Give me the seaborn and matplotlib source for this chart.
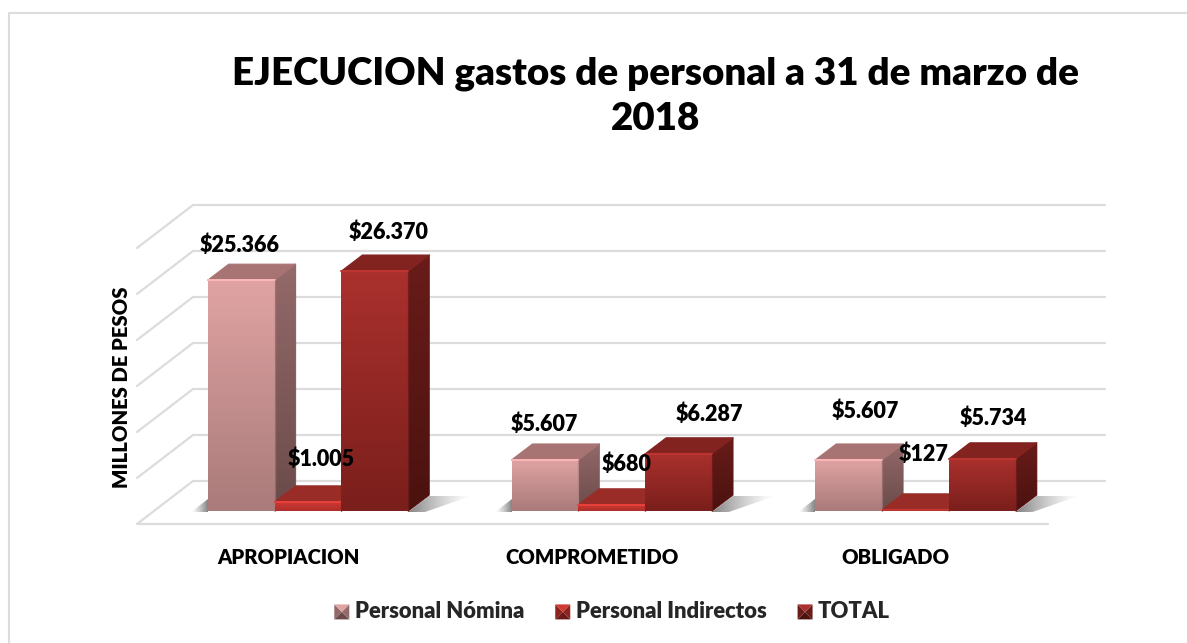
import numpy as np
import pandas as pd
import matplotlib.pyplot as plt
import seaborn as sns
from matplotlib.colors import LinearSegmentedColormap, to_rgb
from matplotlib.legend_handler import HandlerBase
from matplotlib.lines import Line2D
from matplotlib.patches import Polygon, Rectangle

etapas = ['APROPIACION', 'COMPROMETIDO', 'OBLIGADO']
rubros = ['Personal Nómina', 'Personal Indirectos', 'TOTAL']
nomina = [25366, 5607, 5607]
indirectos = [1005, 680, 127]
total = [26370, 6287, 5734]
etiquetas = ['$25.366', '$5.607', '$5.607',
             '$1.005', '$680', '$127',
             '$26.370', '$6.287', '$5.734']

W, H = 1187, 643
PX_X = 303.75   # px per category
PX_Y = 0.0091   # px per peso
DX, DY = 21, 16  # bar depth in px

# front / side / top colours for each series
colores = {
    'Personal Nómina': ['#E0A3A3', '#A97B7A', '#94696A', '#6A4B49', '#A87373'],
    'Personal Indirectos': ['#CF3A36', '#B02E2A', '#8E2320', '#6A1A18', '#9A2C28'],
    'TOTAL': ['#AA302D', '#7A1F1C', '#691C19', '#4B1210', '#822320'],
}
# label offset from the front top centre of each bar, px
label_off = [(-2, 35), (-1, 36), (17, 49),
             (13, 43), (15, 41), (8, 56),
             (14, 39), (31, 40), (11, 41)]

df = pd.DataFrame({
    'etapa': etapas * 3,
    'rubro': np.repeat(rubros, 3),
    'valor': nomina + indirectos + total,
})

sns.set_theme(style='white')
plt.rcParams['font.family'] = ['Lato', 'DejaVu Sans']
PESO = 800

fig = plt.figure(figsize=(W / 100, H / 100), dpi=100)
gris = '#DCDCDC'
fig.add_artist(Line2D([9 / W, 9 / W, 1], [0, 1 - 12.5 / H, 1 - 12.5 / H],
                      transform=fig.transFigure, color=gris, lw=1.5))
ax = fig.add_axes([137 / W, 1 - 524 / H, (1105 - 137) / W, (524 - 205) / H])

sns.barplot(data=df, x='etapa', y='valor', hue='rubro', order=etapas, hue_order=rubros,
            palette=[colores[r][0] for r in rubros], width=0.66, gap=0, dodge=True,
            errorbar=None, ax=ax, saturation=1, zorder=5, edgecolor='none', linewidth=0)

xlim = ((137 - 308) / PX_X, (1105 - 308) / PX_X)
ylim = ((511 - 524) / PX_Y, (511 - 205) / PX_Y)
dx = DX / PX_X
dy = DY / PX_Y


def x_px(p):
    return (p - 308) / PX_X


def y_px(p):
    return (511 - p) / PX_Y


def sombra(x0, x1, y0, y1, poly, al_reves, z):
    # soft grey shadow on the floor, fades away from the bar
    a = np.linspace(0, 0.75, 64) ** 1.3
    if al_reves:
        a = a[::-1]
    img = np.zeros((1, 64, 4))
    img[..., :3] = 0.3
    img[..., 3] = a
    pat = Polygon(poly, fc='none', ec='none', zorder=z)
    ax.add_patch(pat)
    im = ax.imshow(img, aspect='auto', extent=(x0, x1, y0, y1), zorder=z, interpolation='bilinear')
    im.set_clip_path(pat)


# walls and floor
for yb in [205, 251, 297, 343, 389, 435, 481]:
    ax.plot([x_px(137), x_px(193), x_px(1105)], [y_px(yb + 43), y_px(yb), y_px(yb)],
            color=gris, lw=1.6, zorder=1, clip_on=False, solid_joinstyle='miter')
ax.plot([x_px(137), x_px(1048)], [y_px(524), y_px(524)], color=gris, lw=1.6, zorder=1, clip_on=False)

# 3d faces on top of the bars seaborn made
n = 0
for i, rubro in enumerate(rubros):
    c = colores[rubro]
    cont = ax.containers[i]
    for j, bar in enumerate(cont):
        x0, w, h = bar.get_x(), bar.get_width(), bar.get_height()
        z = 5 + i * 3 + j * 0.1
        y_base, y_fondo = y_px(512), y_px(512 - DY)
        if i == 0:
            sx = 17 / PX_X
            sombra(x0 - sx, x0, y_base, y_fondo,
                   [(x0 - sx, y_base), (x0, y_base), (x0, y_px(499))], False, 2)
        if i == 2:
            sx = 42 / PX_X
            sombra(x0 + w, x0 + w + dx + sx, y_base, y_fondo,
                   [(x0 + w, y_base), (x0 + w + sx * 0.4, y_base), (x0 + w + dx + sx, y_fondo), (x0 + w + dx, y_fondo)],
                   True, 2)
        side = Polygon([(x0 + w, 0), (x0 + w + dx, dy), (x0 + w + dx, h + dy), (x0 + w, h)],
                       fc=c[2], ec=c[2], lw=0.8, joinstyle='round', zorder=z)
        ax.add_patch(side)
        cm_side = LinearSegmentedColormap.from_list('s', [c[2], c[3]])
        im = ax.imshow(np.linspace(0, 1, 64).reshape(-1, 1), cmap=cm_side, aspect='auto',
                       extent=(x0 + w, x0 + w + dx, 0, h + dy), origin='upper', zorder=z + 0.1)
        im.set_clip_path(side)
        top = Polygon([(x0, h), (x0 + w, h), (x0 + w + dx, h + dy), (x0 + dx, h + dy)],
                      fc=c[4], ec=c[4], lw=0.8, joinstyle='round', zorder=z + 0.2)
        ax.add_patch(top)
        cm_front = LinearSegmentedColormap.from_list('f', [c[0], c[1]])
        ax.imshow(np.linspace(0, 1, 64).reshape(-1, 1), cmap=cm_front, aspect='auto',
                  extent=(x0, x0 + w, 0, h), origin='upper', zorder=z + 0.3)
        bar.set_zorder(z + 0.25)
        # bevel on the front edges
        if h > 300:
            claro = tuple(min(1, v * 1.12) for v in to_rgb(c[0]))
            ax.plot([x0, x0 + w], [h, h], color=claro, lw=1.4, zorder=z + 0.4, solid_capstyle='round')
            ax.plot([x0 + w, x0 + w], [0, h], color=c[1], lw=1.0, alpha=0.6, zorder=z + 0.4)
        # etiqueta
        ox, oy = label_off[n]
        ax.annotate(etiquetas[n], (x0 + w / 2, h), xytext=(ox, oy), textcoords='offset pixels',
                    ha='center', va='center', fontsize=15.5, fontweight=PESO, color='black',
                    zorder=30, annotation_clip=False)
        n += 1

ax.set_xlim(*xlim)
ax.set_ylim(*ylim)
ax.set_yticks([])
ax.set_xticks([x_px(288), x_px(592), x_px(895)], etapas)
ax.tick_params(axis='x', length=0, pad=17)
for t in ax.get_xticklabels():
    t.set_fontsize(14.6)
    t.set_fontweight(PESO)
    t.set_color('black')
ax.set_xlabel('')
ax.set_ylabel('')
sns.despine(ax=ax, left=True, bottom=True)
fig.text(121 / W, 1 - 387 / H, 'MILLONES DE PESOS', rotation=90, ha='center', va='center',
         fontsize=14.6, fontweight=PESO, color='black')
fig.text(656 / W, 1 - 96 / H, 'EJECUCION gastos de personal a 31 de marzo de\n2018', ha='center', va='center',
         fontsize=27.7, fontweight=PESO, color='black', linespacing=1.4)


class Bevel(HandlerBase):
    def create_artists(self, legend, orig, xd, yd, width, height, fontsize, trans):
        s = 15 * 0.72
        x0, y0 = width - s, (height - s) / 2 - 1.5
        c = colores[orig.get_label()]
        pts = [(x0, y0), (x0 + s, y0), (x0 + s, y0 + s), (x0, y0 + s)]
        mid = (x0 + s / 2, y0 + s / 2)
        out = []
        for a, b, col in [(0, 1, c[3]), (1, 2, c[2]), (3, 0, c[2]), (2, 3, c[0])]:
            out.append(Polygon([pts[a], pts[b], mid], fc=col, ec='none', transform=trans))
        return out


handles = [Rectangle((0, 0), 1, 1, label=r) for r in rubros]
ax.legend(handles=handles, labels=rubros, handler_map={Rectangle: Bevel()},
          loc='center', bbox_to_anchor=(612 / W, 1 - 611 / H), bbox_transform=fig.transFigure,
          ncol=3, frameon=False, prop={'weight': PESO, 'size': 15.8},
          handlelength=0.7, handletextpad=0.25, columnspacing=1.4, borderpad=0)

fig.savefig('out.png', dpi=100)
